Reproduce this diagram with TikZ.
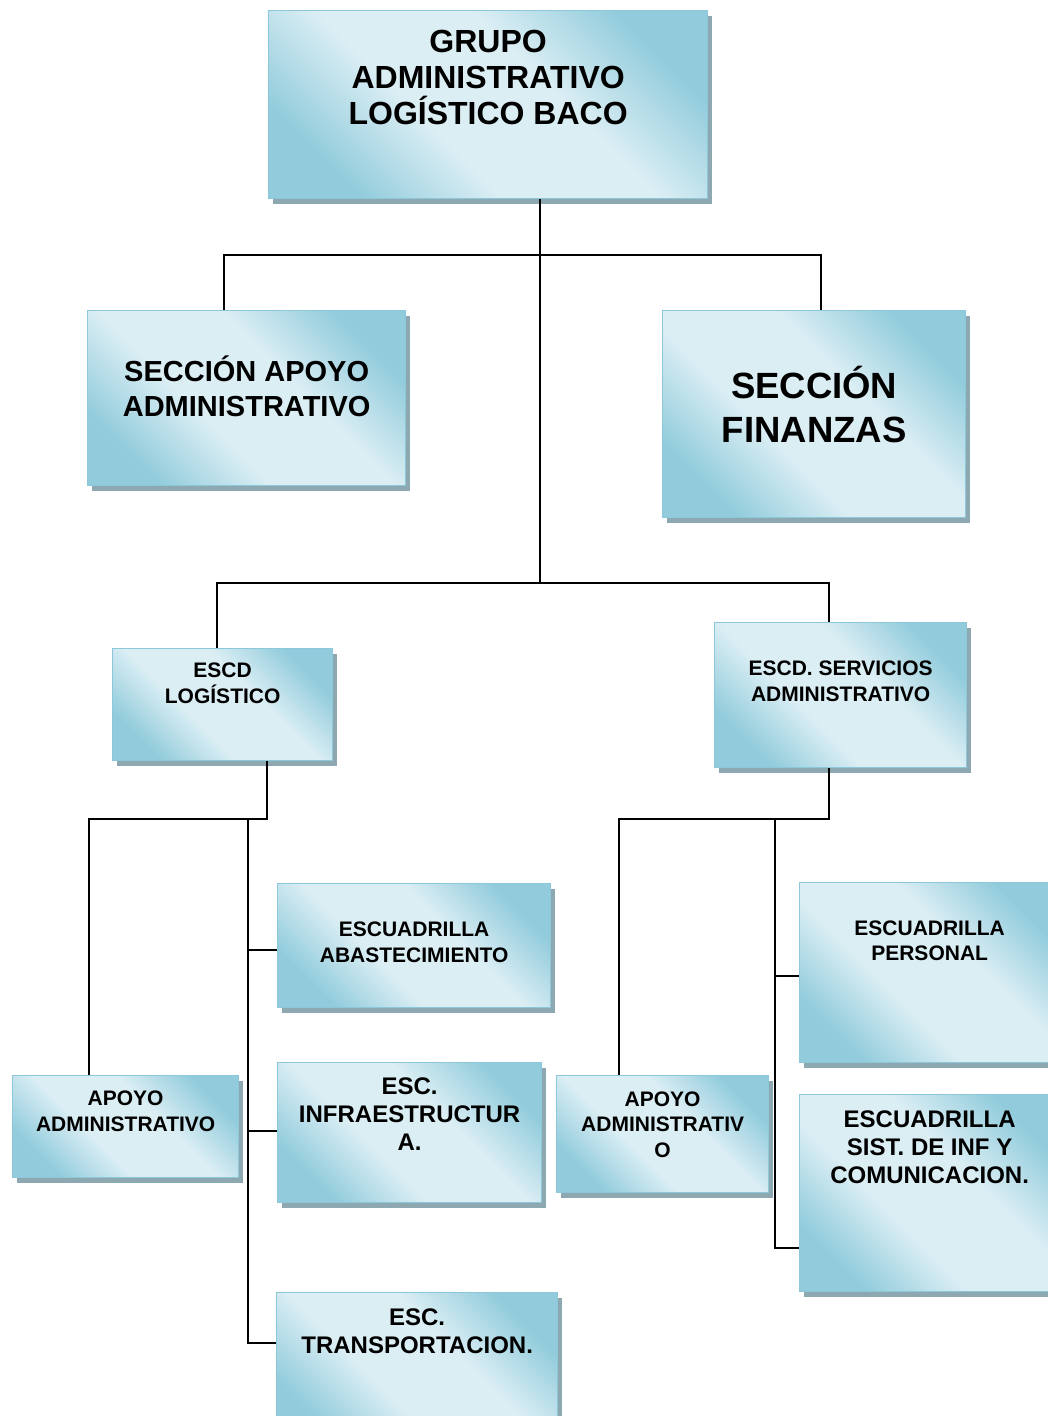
\documentclass[tikz,border=0pt]{standalone}
\usepackage{fontspec}
\setmainfont{Liberation Sans}
\usetikzlibrary{shadows}

\definecolor{boxdark}{RGB}{146,204,220}
\definecolor{boxlight}{RGB}{219,238,244}
\definecolor{boxline}{RGB}{140,200,218}
\definecolor{boxshadow}{RGB}{142,168,178}

\pgfdeclarehorizontalshading{orgshade}{100bp}{color(0bp)=(boxdark); color(25bp)=(boxdark);
  color(41bp)=(boxlight); color(59bp)=(boxlight); color(75bp)=(boxdark); color(100bp)=(boxdark)}

\tikzset{
  orgbox/.style 2 args={draw=boxline, line width=1.3pt, anchor=north west,
    minimum width=#1pt, minimum height=#2pt, inner sep=0pt,
    shading=orgshade, shading angle=45,
    general shadow={fill=boxshadow, shadow xshift=4pt, shadow yshift=-5pt}},
  txt/.style={anchor=center, align=center, inner sep=0pt, text=black},
  fbig/.style={font=\bfseries\fontsize{32}{36}\selectfont},
  fsec/.style={font=\bfseries\fontsize{29}{35}\selectfont},
  ffin/.style={font=\bfseries\fontsize{36.5}{44}\selectfont},
  fmed/.style={font=\bfseries\fontsize{24}{28}\selectfont},
  fsmall/.style={font=\bfseries\fontsize{21}{25.5}\selectfont},
  link/.style={line width=1.8pt, black}
}

\begin{document}
\begin{tikzpicture}[x=1pt, y=-1pt]
\clip (0,0) rectangle (1048,1416);

% boxes
\node[orgbox={439}{188}, label={[txt,fbig,yshift=-67pt]north:GRUPO\\ADMINISTRATIVO\\LOGÍSTICO BACO}] (grupo) at (268,10) {};
\node[orgbox={318}{175}, label={[txt,fsec,yshift=-76.5pt]north:SECCIÓN APOYO\\ADMINISTRATIVO}] (secapoyo) at (87,310) {};
\node[orgbox={303}{207}, label={[txt,ffin,yshift=-94pt]north:SECCIÓN\\FINANZAS}] (finanzas) at (662,310) {};
\node[orgbox={220}{112}, label={[txt,fsmall,yshift=-35.5pt]north:ESCD\\LOGÍSTICO}] (escdlog) at (112,648) {};
\node[orgbox={252}{145}, label={[txt,fsmall,yshift=-59.5pt]north:ESCD. SERVICIOS\\ADMINISTRATIVO}] (escdserv) at (714,622) {};
\node[orgbox={226}{102}, label={[txt,fsmall,yshift=-36.5pt]north:APOYO\\ADMINISTRATIVO}] (apoyo1) at (12,1075) {};
\node[orgbox={273}{124}, label={[txt,fsmall,yshift=-59.5pt]north:ESCUADRILLA\\ABASTECIMIENTO}] (abast) at (277,883) {};
\node[orgbox={264}{140}, label={[txt,fmed,yshift=-52pt]north:ESC.\\INFRAESTRUCTUR\\A.}] (infra) at (277,1062) {};
\node[orgbox={281}{150}, label={[txt,fmed,yshift=-39.5pt]north:ESC.\\TRANSPORTACION.}] (transp) at (276,1292) {};
\node[orgbox={212}{117}, label={[txt,fsmall,yshift=-49.5pt]north:APOYO\\ADMINISTRATIV\\O}] (apoyo2) at (556,1075) {};
\node[orgbox={260}{180}, label={[txt,fsmall,yshift=-59pt]north:ESCUADRILLA\\PERSONAL}] (personal) at (799,882) {};
\node[orgbox={260}{197}, label={[txt,fmed,yshift=-53.5pt]north:ESCUADRILLA\\SIST. DE INF Y\\COMUNICACION.}] (sist) at (799,1094) {};

% junctions
\coordinate (top) at (540,255);
\coordinate (mid) at (540,583);
\coordinate (lbus) at (248,819);
\coordinate (rbus) at (775,819);

% lines
\draw[link] (grupo.south -| mid) -- (mid);
\draw[link] ([xshift=-23pt]secapoyo.north) |- (top) -| ([xshift=6.5pt]finanzas.north);
\draw[link] ([xshift=-6pt]escdlog.north) |- (mid) -| ([xshift=-12pt]escdserv.north);

\draw[link] ([xshift=44pt]escdlog.south) |- (lbus);
\draw[link] ([xshift=-37pt]apoyo1.north) |- (lbus);
\draw[link] (lbus) |- ([yshift=-4pt]abast.west);
\draw[link] (lbus) |- ([yshift=2pt]infra.west);
\draw[link] (lbus) |- ([yshift=25pt]transp.west);

\draw[link] ([xshift=-12pt]escdserv.south) |- (rbus);
\draw[link] ([xshift=-44pt]apoyo2.north) |- (rbus);
\draw[link] (rbus) |- ([yshift=-3pt]personal.west);
\draw[link] (rbus) |- ([yshift=-54.5pt]sist.west);
\end{tikzpicture}
\end{document}
